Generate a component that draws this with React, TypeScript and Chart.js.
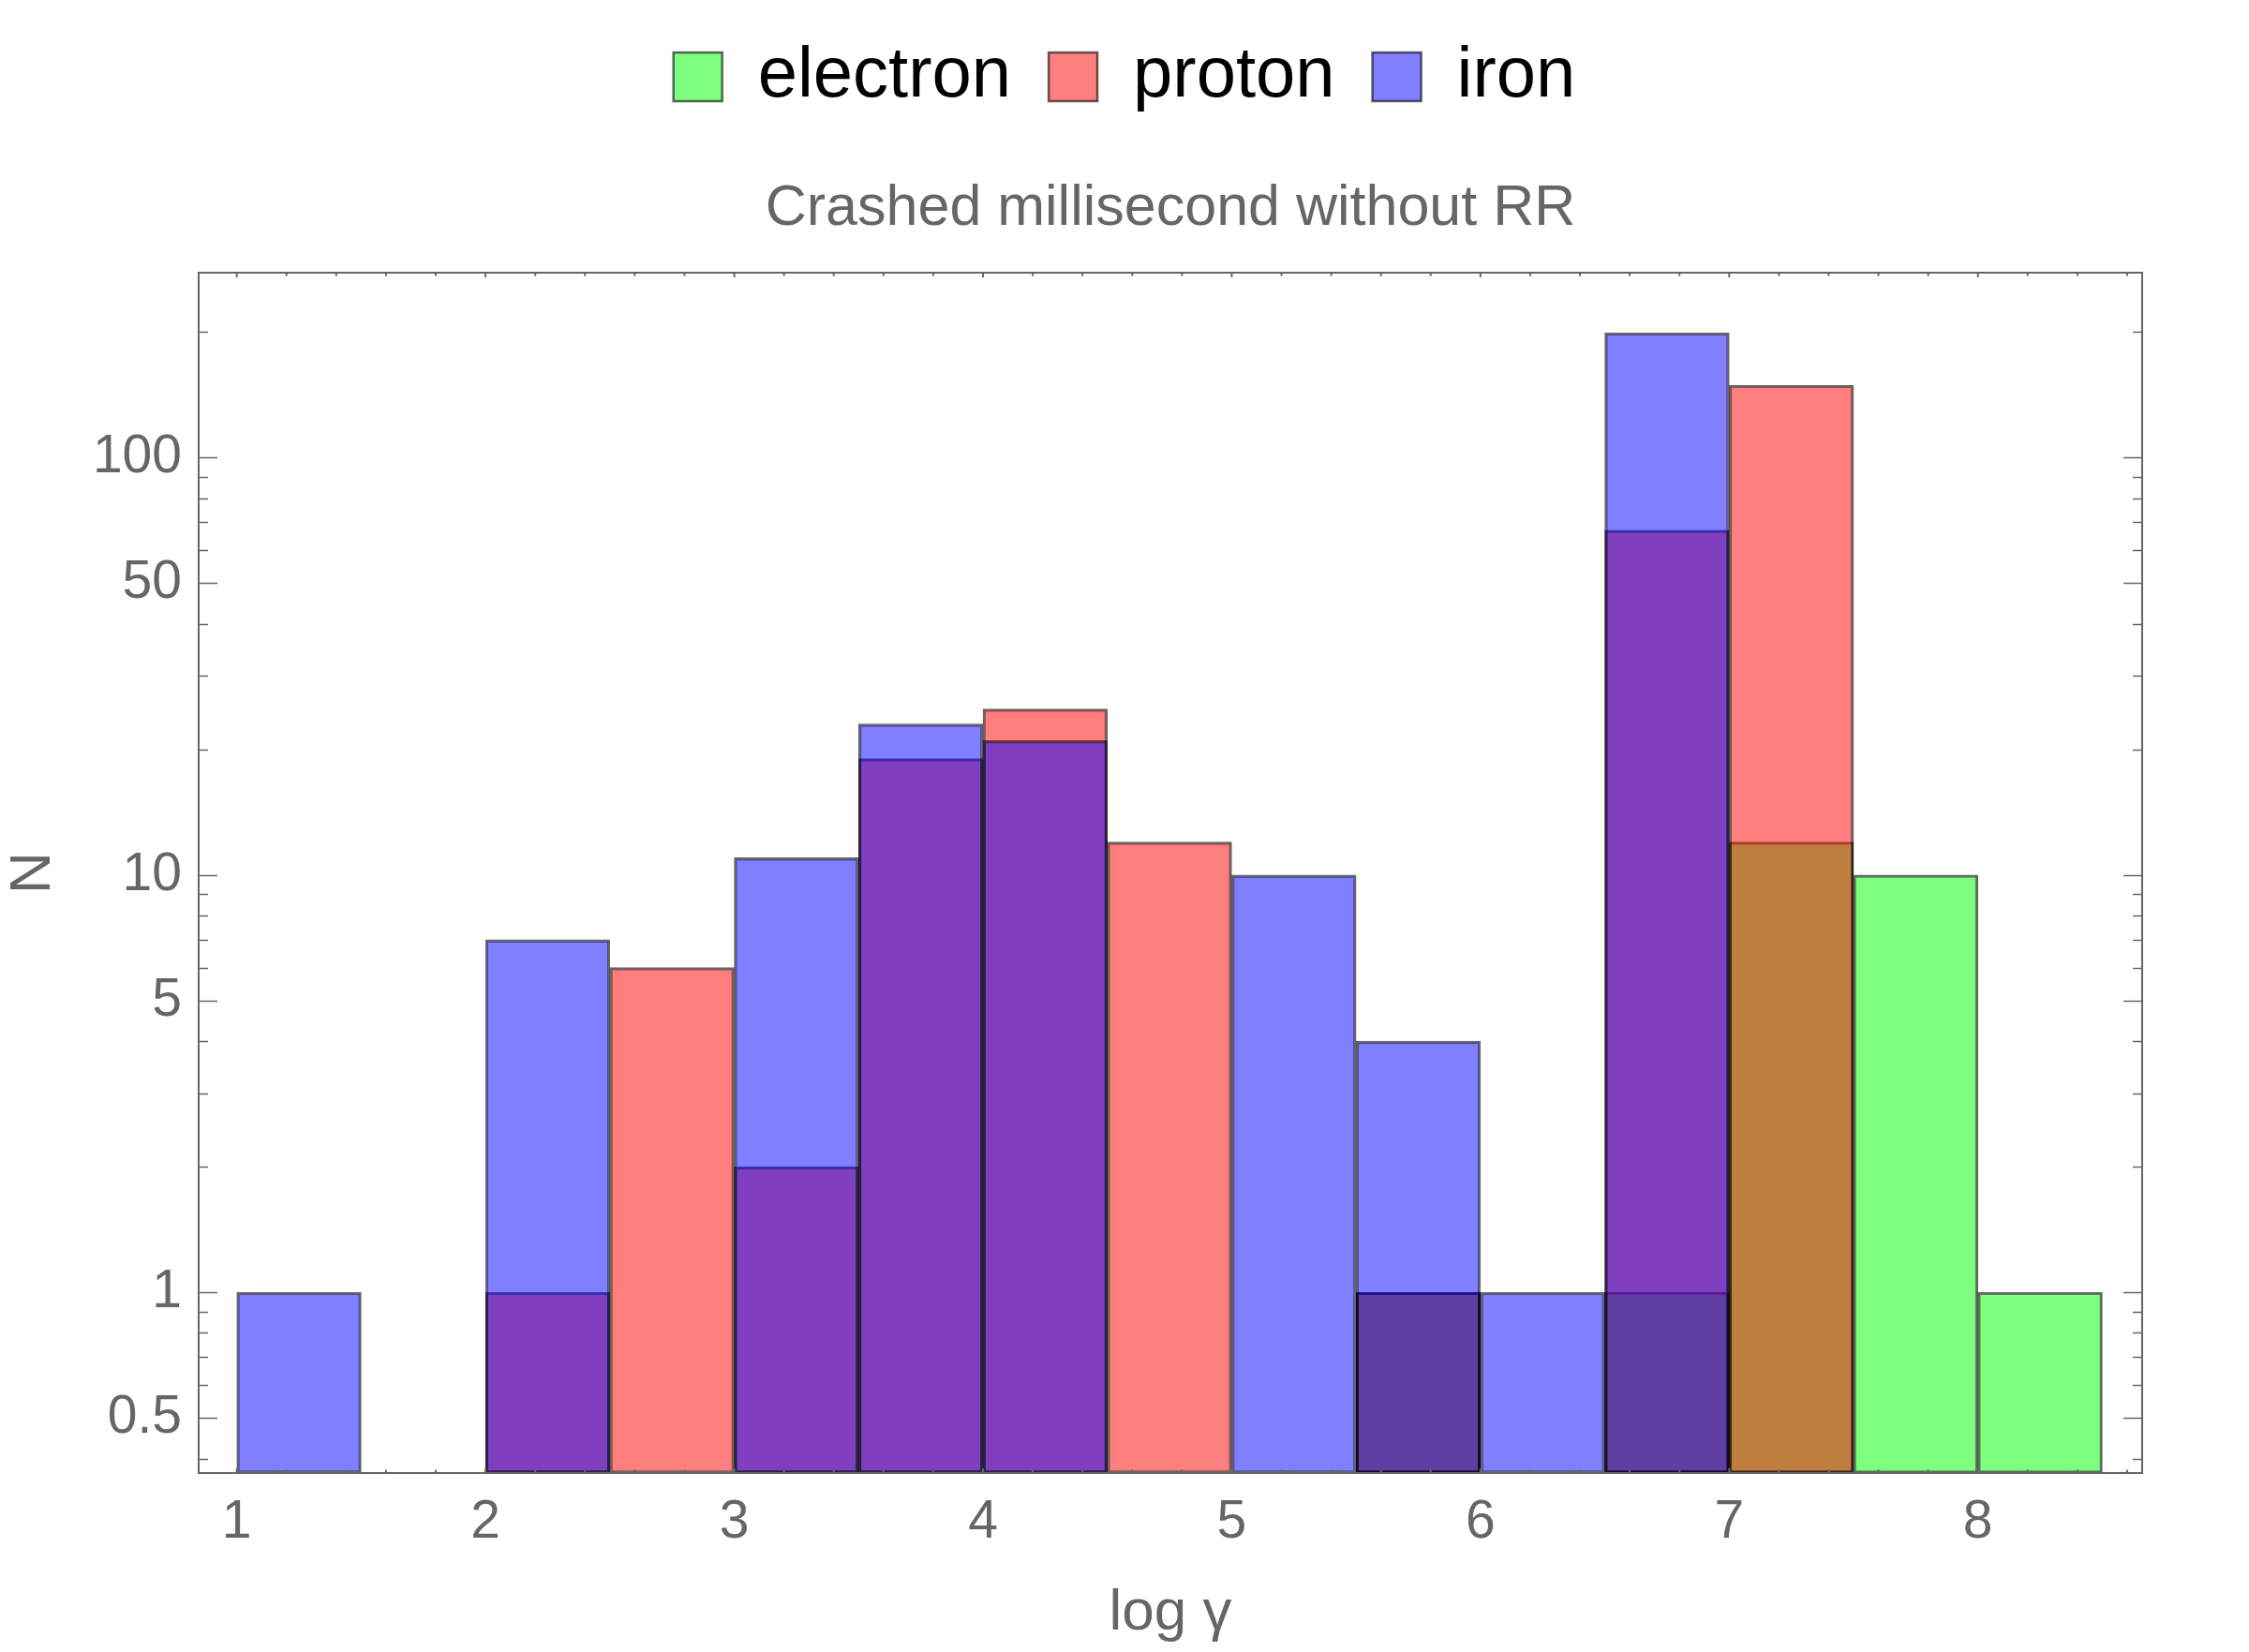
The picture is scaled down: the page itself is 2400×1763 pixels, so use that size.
import React, { useEffect, useRef } from 'react';
import { Chart, registerables } from 'chart.js';

Chart.register(...registerables);

// ---- data ----
const binStarts = [1, 1.5, 2, 2.5, 3, 3.5, 4, 4.5, 5, 5.5, 6, 6.5, 7, 7.5, 8];
const binWidth = 0.5;
const electronCounts = [null, null, null, null, null, null, null, null, null, 1, null, 1, 12, 10, 1];
const protonCounts = [null, null, 1, 6, 2, 19, 25, 12, null, 1, null, 67, 149, null, null];
const ironCounts = [1, null, 7, null, 11, 23, 21, null, 10, 4, 1, 199, null, null, null];

const seriesLabels = ['electron', 'proton', 'iron'];
const chartTitle = 'Crashed millisecond without RR';
const xAxisTitle = 'log γ';
const yAxisTitle = 'N';

const xTickValues = [1, 2, 3, 4, 5, 6, 7, 8];
const yTickValues = [0.5, 1, 5, 10, 50, 100];
const yMinorTicks = [0.4, 0.6, 0.7, 0.8, 0.9, 2, 3, 4, 6, 7, 8, 9, 20, 30, 40, 60, 70, 80, 90, 200];
const xMinorStep = 0.2;
const xMinorFrom = 1;
const xMinorTo = 8.6;

const X_MIN = 0.8467;
const X_MAX = 8.6604;
const Y_MIN = 0.3693;
const Y_MAX = 277.4;

const FONT = "'Liberation Sans', Arial, Helvetica, sans-serif";
const GRAY = '#666666';

function toPoints(counts: (number | null)[]) {
  return binStarts.map((b, i) => ({ x: b + binWidth / 2, y: counts[i] }));
}

const frameTicksPlugin = {
  id: 'frameTicks',
  afterDatasetsDraw(chart: any) {
    const { ctx, chartArea: a, scales } = chart;
    const xs = scales.x;
    const ys = scales.y;
    ctx.save();
    ctx.strokeStyle = GRAY;
    ctx.lineCap = 'butt';
    // y ticks (left and right, inward)
    ctx.lineWidth = 1.4;
    const drawY = (v: number, len: number) => {
      const py = Math.round(ys.getPixelForValue(v)) + 0.5;
      ctx.beginPath();
      ctx.moveTo(a.left, py);
      ctx.lineTo(a.left + len, py);
      ctx.moveTo(a.right, py);
      ctx.lineTo(a.right - len, py);
      ctx.stroke();
    };
    yTickValues.forEach((v) => drawY(v, 20));
    yMinorTicks.forEach((v) => drawY(v, 10));
    // x ticks (bottom and top, inward)
    ctx.lineWidth = 2;
    const drawX = (v: number, len: number) => {
      const px = xs.getPixelForValue(v);
      ctx.beginPath();
      ctx.moveTo(px, a.bottom);
      ctx.lineTo(px, a.bottom - len);
      ctx.moveTo(px, a.top);
      ctx.lineTo(px, a.top + len);
      ctx.stroke();
    };
    const nSteps = Math.round((xMinorTo - xMinorFrom) / xMinorStep);
    for (let k = 0; k <= nSteps; k++) {
      const v = +(xMinorFrom + k * xMinorStep).toFixed(4);
      const isMajor = xTickValues.includes(v);
      drawX(v, isMajor ? 5 : 3.5);
    }
    // frame
    ctx.lineWidth = 2;
    ctx.strokeRect(a.left, a.top, a.right - a.left, a.bottom - a.top);
    ctx.restore();
  },
};

export default function App() {
  const canvasRef = useRef<HTMLCanvasElement | null>(null);

  useEffect(() => {
    document.body.style.margin = '0';
    const canvas = canvasRef.current;
    if (!canvas) return;

    const common = {
      borderColor: 'rgba(0,0,0,0.6)',
      borderWidth: 2.5,
      borderSkipped: false,
      grouped: false,
      barPercentage: 1,
      categoryPercentage: 1,
    };

    const chart = new Chart(canvas, {
      type: 'bar',
      data: {
        datasets: [
          { ...common, label: seriesLabels[0], data: toPoints(electronCounts), backgroundColor: 'rgba(0,255,0,0.5)', order: 3 },
          { ...common, label: seriesLabels[1], data: toPoints(protonCounts), backgroundColor: 'rgba(255,0,0,0.5)', order: 2 },
          { ...common, label: seriesLabels[2], data: toPoints(ironCounts), backgroundColor: 'rgba(0,0,255,0.5)', order: 1 },
        ] as any,
      },
      options: {
        responsive: false,
        animation: false,
        devicePixelRatio: 1,
        layout: { padding: { top: 4, left: 0, right: 0, bottom: 0 } },
        plugins: {
          legend: {
            display: true,
            position: 'top',
            align: 'center',
            labels: {
              boxWidth: 52,
              boxHeight: 52,
              padding: 40,
              color: '#000000',
              font: { family: FONT, size: 76 },
              sort: (a: any, b: any) => a.datasetIndex - b.datasetIndex,
            },
          },
          title: { display: false },
          tooltip: { enabled: false },
        },
        scales: {
          x: {
            type: 'linear',
            position: 'bottom',
            offset: false,
            min: X_MIN,
            max: X_MAX,
            afterBuildTicks: (s: any) => {
              s.ticks = xTickValues.map((v) => ({ value: v }));
            },
            afterFit: (s: any) => {
              s.height = 191;
            },
            ticks: {
              color: GRAY,
              font: { family: FONT, size: 57 },
              padding: 19,
              maxRotation: 0,
              autoSkip: false,
              callback: (v: any) => String(v),
            },
            grid: { display: false, drawTicks: false, offset: false },
            border: { display: false },
            title: {
              display: true,
              text: xAxisTitle,
              color: GRAY,
              font: { family: FONT, size: 62 },
              padding: { top: 0, bottom: 4 },
            },
          },
          xT: {
            type: 'linear',
            position: 'top',
            display: true,
            offset: false,
            afterFit: (s: any) => {
              s.height = 161;
            },
            ticks: { display: false },
            grid: { display: false, drawTicks: false },
            border: { display: false },
            title: {
              display: true,
              text: chartTitle,
              color: GRAY,
              font: { family: FONT, size: 61 },
              padding: { top: 57, bottom: 0 },
            },
          },
          y: {
            type: 'logarithmic',
            position: 'left',
            min: Y_MIN,
            max: Y_MAX,
            afterBuildTicks: (s: any) => {
              s.ticks = yTickValues.map((v) => ({ value: v }));
            },
            afterFit: (s: any) => {
              s.width = 212;
            },
            ticks: {
              color: GRAY,
              font: { family: FONT, size: 57 },
              padding: 18,
              autoSkip: false,
              callback: (v: any) => String(v),
            },
            grid: { display: false, drawTicks: false },
            border: { display: false },
            title: {
              display: true,
              text: yAxisTitle,
              color: GRAY,
              font: { family: FONT, size: 62 },
              padding: { top: -1, bottom: 0 },
            },
          },
          yR: {
            type: 'linear',
            position: 'right',
            display: true,
            afterFit: (s: any) => {
              s.width = 114;
            },
            ticks: { display: false },
            grid: { display: false, drawTicks: false },
            border: { display: false },
          },
        },
      } as any,
      plugins: [frameTicksPlugin],
    });

    return () => {
      chart.destroy();
    };
  }, []);

  return (
    <div style={{ position: 'absolute', left: 0, top: 0, width: 2400, height: 1763, background: '#ffffff' }}>
      <canvas ref={canvasRef} width={2400} height={1763} style={{ width: 2400, height: 1763, display: 'block' }} />
    </div>
  );
}
